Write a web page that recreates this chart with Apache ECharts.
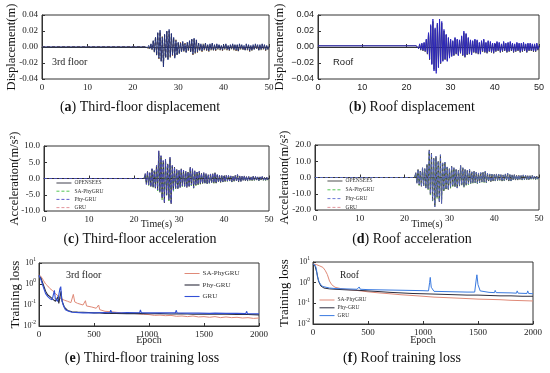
<!DOCTYPE html>
<html><head><meta charset="utf-8">
<script src="https://cdn.jsdelivr.net/npm/echarts@6/dist/echarts.min.js"></script>
<style>html,body{margin:0;padding:0;background:#fff}#c{width:550px;height:373px}</style>
</head><body><div id="c"></div>
<script>
// ---------- Data ----------
const step = 0.25;
// (a) third-floor displacement (m), samples every 0.25 s from aStart
const aStart = 23;
const aPre = 0.0005;
const aOpensees = [0.001,-0.001,0.002,-0.002, 0.004,-0.003,0.008,-0.006, 0.012,-0.010,0.018,-0.014, 0.021,-0.018,0.012,-0.025,
 0.016,-0.013,0.020,-0.016, 0.022,-0.012,0.017,-0.010, 0.012,-0.014,0.008,-0.010, 0.006,-0.008,0.005,-0.006,
 0.007,-0.005,0.004,-0.007, 0.006,-0.004,0.008,-0.006, 0.010,-0.009,0.011,-0.007, 0.009,-0.006,0.005,-0.004,
 0.004,-0.005,0.003,-0.003, 0.005,-0.004,0.003,-0.005, 0.004,-0.003,0.005,-0.004, 0.003,-0.004,0.004,-0.002,
 0.003,-0.003,0.002,-0.004, 0.003,-0.002,0.004,-0.003, 0.002,-0.004,0.003,-0.002, 0.004,-0.003,0.003,-0.004,
 0.003,-0.005,0.004,-0.002, 0.003,-0.003,0.002,-0.004, 0.004,-0.003,0.003,-0.005, 0.002,-0.004,0.003,-0.003,
 0.004,-0.002,0.003,-0.004, 0.003,-0.003,0.004,-0.002, 0.003,-0.004,0.002,-0.003, 0.001];
const aPred = [0.000,-0.001,0.001,-0.002, 0.003,-0.004,0.007,-0.007, 0.013,-0.011,0.017,-0.015, 0.019,-0.017,0.013,-0.023,
 0.015,-0.014,0.019,-0.015, 0.020,-0.013,0.016,-0.011, 0.011,-0.013,0.009,-0.009, 0.005,-0.009,0.006,-0.005,
 0.006,-0.006,0.005,-0.006, 0.005,-0.005,0.007,-0.007, 0.009,-0.010,0.010,-0.008, 0.008,-0.007,0.004,-0.005,
 0.003,-0.006,0.004,-0.004, 0.004,-0.005,0.002,-0.006, 0.003,-0.004,0.004,-0.005, 0.002,-0.005,0.003,-0.003,
 0.002,-0.004,0.001,-0.005, 0.002,-0.003,0.003,-0.004, 0.001,-0.005,0.002,-0.003, 0.003,-0.004,0.002,-0.005,
 0.002,-0.006,0.003,-0.003, 0.002,-0.004,0.001,-0.005, 0.003,-0.004,0.002,-0.006, 0.001,-0.005,0.002,-0.004,
 0.003,-0.003,0.002,-0.005, 0.002,-0.004,0.003,-0.003, 0.002,-0.005,0.001,-0.004, 0.000];
// (b) roof displacement (m)
const bStart = 22.5;
const bPre = 0.0015;
const bOpensees = [0.002,-0.002, 0.004,-0.003,0.005,-0.004, 0.006,-0.005,0.010,-0.008, 0.018,-0.015,0.028,-0.022,
 0.035,-0.030,0.024,-0.033, 0.030,-0.026,0.035,-0.020, 0.032,-0.018,0.022,-0.015, 0.016,-0.018,0.012,-0.014,
 0.010,-0.012,0.008,-0.010, 0.012,-0.008,0.010,-0.011, 0.009,-0.007,0.014,-0.010, 0.020,-0.012,0.017,-0.009,
 0.012,-0.008,0.009,-0.010, 0.008,-0.006,0.010,-0.007, 0.009,-0.008,0.006,-0.009, 0.008,-0.005,0.010,-0.006,
 0.006,-0.007,0.008,-0.005, 0.007,-0.006,0.005,-0.007, 0.005,-0.005,0.007,-0.004, 0.006,-0.006,0.004,-0.005,
 0.007,-0.004,0.005,-0.006, 0.006,-0.005,0.007,-0.004, 0.005,-0.006,0.004,-0.005, 0.006,-0.004,0.005,-0.006,
 0.005,-0.005,0.006,-0.004, 0.004,-0.006,0.005,-0.004, 0.005,-0.004,0.004,-0.005, 0.004,-0.005,0.005,-0.003, 0.002];
const bPred = [0.001,-0.002, 0.003,-0.004,0.004,-0.005, 0.005,-0.006,0.009,-0.009, 0.016,-0.016,0.026,-0.021,
 0.032,-0.028,0.022,-0.030, 0.028,-0.025,0.032,-0.021, 0.030,-0.017,0.020,-0.016, 0.015,-0.017,0.011,-0.013,
 0.009,-0.011,0.007,-0.011, 0.011,-0.009,0.009,-0.010, 0.008,-0.008,0.013,-0.011, 0.018,-0.013,0.016,-0.010,
 0.011,-0.009,0.008,-0.009, 0.007,-0.007,0.009,-0.008, 0.008,-0.009,0.005,-0.008, 0.007,-0.006,0.009,-0.007,
 0.005,-0.008,0.007,-0.006, 0.006,-0.007,0.004,-0.008, 0.004,-0.006,0.006,-0.005, 0.005,-0.007,0.003,-0.006,
 0.006,-0.005,0.004,-0.007, 0.005,-0.006,0.006,-0.005, 0.004,-0.007,0.003,-0.006, 0.005,-0.005,0.004,-0.007,
 0.004,-0.006,0.005,-0.005, 0.003,-0.007,0.004,-0.005, 0.004,-0.005,0.003,-0.006, 0.003,-0.006,0.004,-0.004, 0.001];
// (c) third-floor acceleration (m/s^2)
const cStart = 22.5;
const cOpensees = [1.5,-1.8, 2.2,-2.0,1.8,-2.5, 3.0,-2.6,2.4,-3.0, 4.0,-3.5,8.5,-4.0, 7.0,-6.0,5.5,-7.5,
 6.0,-5.0,4.5,-6.5, 6.5,-7.8,4.0,-3.5, 3.5,-3.0,2.8,-3.2, 2.5,-2.8,3.0,-2.2, 2.6,-2.4,2.2,-2.8,
 2.0,-2.5,3.5,-2.0, 3.0,-2.8,2.4,-2.0, 2.0,-1.8,2.2,-1.6, 1.6,-1.5,1.8,-1.4, 1.5,-1.6,1.2,-1.4,
 1.4,-1.2,1.5,-1.3, 1.8,-1.4,1.2,-1.0, 1.0,-1.2,0.9,-1.0, 0.8,-0.9,1.0,-0.8, 0.9,-0.7,0.8,-1.0,
 0.7,-0.8,1.0,-0.7, 1.2,-1.0,0.8,-0.9, 0.7,-0.6,0.8,-0.7, 0.6,-0.7,0.6,-0.5, 0.5,-0.6,0.7,-0.5,
 0.6,-0.5,0.5,-0.6, 0.5,-0.4,0.6,-0.5, 0.4,-0.5,0.4,-0.4, 0.2];
const cPred = [1.3,-1.6, 2.0,-2.3,1.6,-2.2, 2.8,-2.9,2.2,-2.7, 3.6,-3.8,7.9,-4.4, 6.4,-6.5,5.0,-7.0,
 5.5,-5.4,4.1,-6.9, 6.0,-7.2,3.6,-3.9, 3.2,-3.3,2.5,-2.9, 2.2,-2.5,2.7,-2.5, 2.3,-2.7,2.0,-2.5,
 1.8,-2.2,3.2,-2.3, 2.7,-3.0,2.1,-2.2, 1.8,-2.0,2.0,-1.8, 1.4,-1.7,1.6,-1.6, 1.3,-1.8,1.1,-1.5,
 1.2,-1.4,1.3,-1.5, 1.6,-1.6,1.0,-1.2, 0.9,-1.3,0.8,-1.1, 0.7,-1.0,0.9,-0.9, 0.8,-0.8,0.7,-1.1,
 0.6,-0.9,0.9,-0.8, 1.1,-1.1,0.7,-1.0, 0.6,-0.7,0.7,-0.8, 0.5,-0.8,0.5,-0.6, 0.4,-0.7,0.6,-0.6,
 0.5,-0.6,0.4,-0.7, 0.4,-0.5,0.5,-0.6, 0.3,-0.6,0.3,-0.5, 0.1];
// (d) roof acceleration (m/s^2)
const dStart = 22.5;
const dOpensees = [3.0,-3.5, 5.0,-4.5,4.0,-5.5, 6.0,-5.0,5.5,-6.5, 8.0,-7.0,17.0,-10.0, 15.0,-14.0,12.0,-18.0,
 13.0,-12.0,10.0,-15.0, 14.0,-16.0,9.0,-8.0, 9.5,-7.0,6.5,-7.5, 5.5,-6.0,7.0,-5.0, 6.0,-5.5,5.0,-6.5,
 4.5,-5.0,7.5,-4.5, 6.0,-5.5,5.0,-4.5, 4.5,-4.0,5.0,-3.5, 3.5,-3.2,4.0,-3.0, 3.2,-3.5,2.8,-3.0,
 3.0,-2.6,3.2,-2.8, 3.8,-3.0,2.6,-2.2, 2.2,-2.6,2.0,-2.2, 1.8,-2.0,2.2,-1.8, 2.0,-1.6,1.8,-2.2,
 1.6,-1.8,2.2,-1.6, 2.6,-2.2,1.8,-2.0, 1.6,-1.4,1.8,-1.6, 1.4,-1.6,1.4,-1.2, 1.2,-1.4,1.6,-1.2,
 1.4,-1.2,1.2,-1.4, 1.1,-0.9,1.3,-1.1, 0.9,-1.1,0.9,-0.9, 0.4];
const dPred = [2.6,-3.1, 4.6,-4.9,3.6,-5.0, 5.5,-5.5,5.0,-6.0, 7.4,-7.6,16.0,-10.8, 14.0,-14.8,11.2,-17.0,
 12.2,-12.8,9.2,-14.0, 13.0,-15.0,8.2,-8.8, 8.8,-7.6,6.0,-7.0, 5.0,-6.6,6.5,-5.5, 5.5,-6.0,4.6,-6.0,
 4.0,-5.5,7.0,-5.0, 5.5,-6.0,4.5,-5.0, 4.0,-4.5,4.5,-4.0, 3.2,-3.6,3.6,-3.4, 2.9,-3.8,2.5,-3.3,
 2.7,-2.9,2.9,-3.1, 3.4,-3.3,2.3,-2.5, 2.0,-2.8,1.8,-2.4, 1.6,-2.2,2.0,-2.0, 1.8,-1.8,1.6,-2.4,
 1.4,-2.0,2.0,-1.8, 2.4,-2.4,1.6,-2.2, 1.4,-1.6,1.6,-1.8, 1.2,-1.8,1.2,-1.4, 1.0,-1.6,1.4,-1.4,
 1.2,-1.4,1.0,-1.6, 0.9,-1.1,1.1,-1.3, 0.7,-1.3,0.7,-1.1, 0.2];
// (e) third-floor training loss: [epoch, loss]
const eSA = [[0,2.8],[20,2.2],[40,1.5],[60,1.0],[80,0.8],[100,0.6],[120,0.5],[150,0.35],[180,0.25],[200,0.2],[230,0.17],[260,0.15],[290,0.13],[305,0.13],[312,0.32],[325,0.14],[350,0.12],[400,0.1],[415,0.1],[422,0.16],[432,0.09],[480,0.08],[520,0.07],[535,0.07],[542,0.1],[552,0.06],[600,0.05],[650,0.048],[700,0.045],[750,0.042],[800,0.04],[850,0.04],[900,0.038],[950,0.036],[1000,0.035],[1050,0.032],[1100,0.033],[1150,0.031],[1200,0.032],[1250,0.029],[1300,0.03],[1350,0.028],[1400,0.03],[1450,0.027],[1500,0.028],[1550,0.026],[1600,0.028],[1650,0.025],[1700,0.027],[1750,0.025],[1800,0.026],[1850,0.024],[1900,0.025],[1950,0.023],[2000,0.024]];
const ePhy = [[0,2.5],[20,1.8],[40,0.9],[60,0.45],[80,0.3],[100,0.25],[130,0.18],[150,0.15],[165,0.14],[172,0.25],[180,0.12],[195,0.13],[200,0.45],[210,0.15],[230,0.08],[260,0.055],[300,0.048],[350,0.046],[400,0.045],[450,0.044],[500,0.042],[550,0.042],[600,0.04],[650,0.041],[700,0.04],[800,0.039],[900,0.04],[1000,0.038],[1100,0.039],[1200,0.037],[1300,0.038],[1400,0.036],[1500,0.037],[1600,0.036],[1700,0.036],[1800,0.035],[1900,0.035],[2000,0.034]];
const eGRU = [[0,2.6],[20,1.5],[40,0.7],[60,0.35],[80,0.25],[100,0.2],[120,0.18],[132,0.17],[140,0.5],[148,0.2],[170,0.15],[185,0.14],[190,0.6],[198,0.75],[205,0.2],[220,0.1],[240,0.06],[270,0.05],[300,0.045],[400,0.042],[500,0.042],[600,0.044],[645,0.043],[652,0.056],[660,0.044],[750,0.043],[800,0.044],[915,0.043],[922,0.058],[930,0.043],[1000,0.042],[1100,0.042],[1240,0.042],[1247,0.056],[1255,0.042],[1350,0.041],[1450,0.041],[1550,0.04],[1600,0.041],[1700,0.04],[1800,0.04],[1880,0.039],[1887,0.05],[1895,0.039],[2000,0.038]];
// (f) roof training loss: [epoch, loss]
const fSA = [[0,8],[30,7.5],[60,6.5],[90,5.5],[110,4],[130,2.5],[150,1.2],[170,0.8],[200,0.6],[250,0.52],[300,0.47],[400,0.42],[500,0.36],[600,0.32],[700,0.29],[800,0.26],[900,0.24],[1000,0.22],[1100,0.2],[1200,0.19],[1300,0.18],[1400,0.17],[1500,0.16],[1600,0.155],[1700,0.15],[1800,0.14],[1900,0.135],[2000,0.13]];
const fPhy = [[0,8],[20,6],[35,3],[50,1.2],[70,0.7],[100,0.55],[150,0.5],[200,0.48],[300,0.45],[400,0.43],[500,0.4],[600,0.37],[700,0.34],[800,0.32],[900,0.3],[1000,0.29],[1100,0.28],[1200,0.27],[1300,0.26],[1400,0.25],[1500,0.25],[1600,0.24],[1700,0.23],[1800,0.23],[1900,0.22],[2000,0.22]];
const fGRU = [[0,8],[20,7],[30,5],[40,2],[55,1.1],[70,0.8],[90,0.65],[150,0.55],[200,0.52],[300,0.5],[400,0.48],[420,0.62],[430,0.48],[500,0.46],[600,0.45],[700,0.44],[800,0.43],[900,0.42],[1000,0.41],[1050,0.4],[1060,1.0],[1066,1.8],[1075,0.6],[1100,0.38],[1200,0.37],[1300,0.36],[1400,0.35],[1470,0.35],[1482,1.2],[1490,2.4],[1500,0.8],[1520,0.4],[1600,0.34],[1650,0.33],[1656,0.42],[1665,0.33],[1800,0.32],[1850,0.31],[1856,0.4],[1865,0.31],[1945,0.3],[1952,0.4],[1960,0.3],[2000,0.29]];
// axis ranges [min, max, interval]
const timeTicks = [0, 50, 10];
const epochTicks = [0, 2000, 500];

// ---------- Build ----------
const serif = 'Liberation Serif';
const sans = 'Liberation Sans';
function ts(start, pre, vals) {
  const out = [[0, pre], [start - step, pre]];
  vals.forEach((v, i) => out.push([start + i * step, v]));
  return out;
}
const grids = [
  {left: 42, top: 15, width: 227, height: 64},
  {left: 318, top: 15, width: 221, height: 64},
  {left: 44, top: 146, width: 225, height: 65},
  {left: 315, top: 145, width: 224, height: 65},
  {left: 39, top: 263, width: 220, height: 63},
  {left: 313, top: 262, width: 220, height: 62}
].map(g => Object.assign({show: true, borderColor: '#333', borderWidth: 1, containLabel: false}, g));

function xAx(i, font, range, name, gap) {
  return {
    type: 'value', gridIndex: i, min: range[0], max: range[1], interval: range[2],
    axisLine: {show: true, lineStyle: {color: '#333', width: 1}},
    axisTick: {show: true, inside: true, length: 3, lineStyle: {color: '#333'}},
    splitLine: {show: false},
    axisLabel: {fontFamily: font, fontSize: 9, color: '#222', margin: 4, formatter: v => String(v)},
    name: name || '', nameLocation: 'middle', nameGap: gap || 0, nameMoveOverlap: false,
    nameTextStyle: {fontFamily: serif, fontSize: 10, color: '#222', verticalAlign: 'top'}
  };
}
function yAx(i, font, min, max, interval, dec, name, gap, nameSize, minus) {
  return {
    type: 'value', gridIndex: i, min: min, max: max, interval: interval,
    axisLine: {show: true, lineStyle: {color: '#333', width: 1}},
    axisTick: {show: true, inside: true, length: 3, lineStyle: {color: '#333'}},
    splitLine: {show: false},
    axisLabel: {fontFamily: font, fontSize: 9, color: '#222', margin: 4,
      formatter: v => (v < 0 ? minus : '') + Math.abs(v).toFixed(dec)},
    name: name, nameLocation: 'middle', nameGap: gap, nameMoveOverlap: false,
    nameTextStyle: {fontFamily: serif, fontSize: nameSize, color: '#111'}
  };
}
function yLog(i, name, gap) {
  return {
    type: 'log', logBase: 10, gridIndex: i, min: 0.01, max: 10,
    axisLine: {show: true, lineStyle: {color: '#333', width: 1}},
    axisTick: {show: true, inside: true, length: 3, lineStyle: {color: '#333'}},
    splitLine: {show: false}, minorTick: {show: false},
    axisLabel: {fontFamily: serif, fontSize: 8, color: '#222', margin: 3,
      formatter: v => '{b|10}{s|' + Math.round(Math.log10(v)) + '}',
      rich: {b: {fontFamily: serif, fontSize: 8, color: '#222'}, s: {fontFamily: serif, fontSize: 5.5, color: '#222', padding: [0, 0, 6, 0]}}},
    name: name, nameLocation: 'middle', nameGap: gap, nameMoveOverlap: false,
    nameTextStyle: {fontFamily: serif, fontSize: 13, color: '#111'}
  };
}

const xAxis = [
  xAx(0, serif, timeTicks),
  xAx(1, sans, timeTicks),
  xAx(2, serif, timeTicks, 'Time(s)', 8),
  xAx(3, serif, timeTicks, 'Time(s)', 9),
  xAx(4, serif, epochTicks, 'Epoch', 9.5),
  xAx(5, serif, epochTicks, 'Epoch', 11)
];
const yAxis = [
  yAx(0, serif, -0.04, 0.04, 0.02, 2, 'Displacement(m)', 24, 12.5, '-'),
  yAx(1, sans, -0.04, 0.04, 0.02, 2, 'Displacement(m)', 32, 12.5, '\u2212'),
  yAx(2, serif, -10, 10, 5, 1, 'Acceleration(m/s\u00b2)', 23, 12.5, '-'),
  yAx(3, serif, -20, 20, 10, 1, 'Acceleration(m/s\u00b2)', 24, 12.5, '-'),
  yLog(4, 'Training loss', 16.5),
  yLog(5, 'Training loss', 21.5)
];

const styles = {};
function line(name, i, data, color, width, dashed, z) {
  styles[name] = {color: color, width: Math.max(width, 0.9), type: dashed ? [3, 2] : 'solid'};
  return {name: name, type: 'line', xAxisIndex: i, yAxisIndex: i, data: data, showSymbol: false, symbol: 'none',
    animation: false, z: z || 2,
    lineStyle: {color: color, width: width, type: dashed ? [3, 2] : 'solid'}, itemStyle: {color: color}};
}
const series = [
  // (a)
  line('a-pred-green', 0, ts(aStart, aPre, aPred), '#3c9a3c', 0.8, true, 2),
  line('a-pred-red', 0, ts(aStart, aPre, aPred), '#c04848', 0.6, true, 2),
  line('a-opensees', 0, ts(aStart, aPre * 0.4, aOpensees), '#1e2c78', 0.9, false, 3),
  // (b)
  line('b-pred', 1, ts(bStart, bPre, bPred), '#3a3a3a', 0.9, false, 2),
  line('b-opensees', 1, ts(bStart, bPre, bOpensees), '#2a24c4', 0.9, false, 3),
  // (c)
  line('OPENSEES', 2, ts(cStart, 0, cOpensees), '#2b2b3a', 0.8, false, 4),
  line('SA-PhyGRU', 2, ts(cStart, 0, cPred), '#3fbf3f', 0.8, true, 3),
  line('Phy-GRU', 2, ts(cStart, 0, cOpensees), '#4a48c8', 0.8, true, 5),
  line('GRU', 2, ts(cStart, 0, cPred), '#e08890', 0.7, true, 2),
  // (d)
  line('OPENSEES ', 3, ts(dStart, 0, dOpensees), '#3a3a3a', 0.8, false, 4),
  line('SA-PhyGRU ', 3, ts(dStart, 0, dPred), '#3fbf3f', 0.8, true, 3),
  line('Phy-GRU ', 3, ts(dStart, 0, dOpensees), '#5a6ad0', 0.8, true, 5),
  line('GRU ', 3, ts(dStart, 0, dPred), '#e08890', 0.7, true, 2),
  // (e)
  line('SA-PhyGRU  ', 4, eSA, '#e08a78', 1, false, 2),
  line('Phy-GRU  ', 4, ePhy, '#2c2c3c', 1.1, false, 3),
  line('GRU  ', 4, eGRU, '#3350d6', 1.1, false, 4),
  // (f)
  line('SA-PhyGRU   ', 5, fSA, '#e08a78', 1, false, 2),
  line('Phy-GRU   ', 5, fPhy, '#2c2c3c', 1, false, 3),
  line('GRU   ', 5, fGRU, '#3a7ae0', 1, false, 4)
];

function legend(names, left, top, gap, size, iw) {
  return {
    data: names.map(n => ({name: n, itemStyle: {opacity: 0}, lineStyle: Object.assign({}, styles[n])})),
    left: left, top: top, orient: 'vertical', itemGap: gap, itemWidth: iw, itemHeight: 4,
    padding: 0, selectedMode: false,
    textStyle: {fontFamily: serif, fontSize: size, color: '#333', padding: [0, 0, 0, -2]}};
}
const legends = [
  legend(['OPENSEES', 'SA-PhyGRU', 'Phy-GRU', 'GRU'], 56, 180, 2.2, 5.5, 15),
  legend(['OPENSEES ', 'SA-PhyGRU ', 'Phy-GRU ', 'GRU '], 327, 178, 2.8, 5.5, 15),
  legend(['SA-PhyGRU  ', 'Phy-GRU  ', 'GRU  '], 184, 270, 4.5, 7, 15),
  legend(['SA-PhyGRU   ', 'Phy-GRU   ', 'GRU   '], 319, 297, 1.8, 5.5, 15)
];

function cap(letter, rest, x, y) {
  return {text: '{n|(}{b|' + letter + '}{n|) ' + rest + '}', left: x, top: y, textAlign: 'center', padding: 0,
    textStyle: {fontWeight: 'normal', rich: {
      n: {fontFamily: serif, fontSize: 14, fontWeight: 'normal', color: '#111'},
      b: {fontFamily: serif, fontSize: 14, fontWeight: 'bold', color: '#111'}}}};
}
const titles = [
  cap('a', 'Third-floor displacement', 140, 100),
  cap('b', 'Roof displacement', 412, 100),
  cap('c', 'Third-floor acceleration', 140, 232),
  cap('d', 'Roof acceleration', 412, 232),
  cap('e', 'Third-floor training loss', 142, 351),
  cap('f', 'Roof training loss', 402, 351)
];

const option = {
  backgroundColor: '#fff',
  animation: false,
  grid: grids, xAxis: xAxis, yAxis: yAxis, series: series, legend: legends, title: titles,
  graphic: [
    {type: 'text', left: 52, top: 57, style: {text: '3rd floor', fontFamily: serif, fontSize: 10, fill: '#222'}},
    {type: 'text', left: 333, top: 57, style: {text: 'Roof', fontFamily: sans, fontSize: 9.5, fill: '#222'}},
    {type: 'text', left: 66, top: 270, style: {text: '3rd floor', fontFamily: serif, fontSize: 10, fill: '#222'}},
    {type: 'text', left: 340, top: 270, style: {text: 'Roof', fontFamily: serif, fontSize: 9.5, fill: '#222'}}
  ]
};
const chart = echarts.init(document.getElementById('c'), null, {renderer: 'canvas'});
chart.setOption(option);
</script>
</body></html>
